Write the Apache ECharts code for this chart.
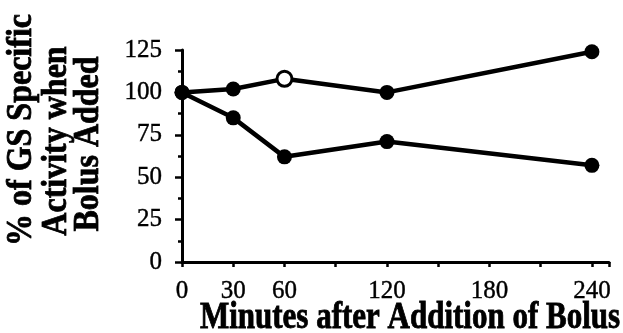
<!DOCTYPE html>
<html><head><meta charset="utf-8">
<script src="https://cdn.jsdelivr.net/npm/echarts@6/dist/echarts.min.js"></script>
<style>html,body{margin:0;padding:0;background:#fff}#c{width:623px;height:333px}</style>
</head><body><div id="c"></div>
<script>
const minutes = [0, 30, 60, 120, 240];
const upperSeries = [100, 102, 108, 100, 124];
const lowerSeries = [100, 85, 62, 71, 57];
const openPointIndex = 2; // open circle on upper series at 60 min
const xTickLabels = [0, 30, 60, 120, 180, 240];
const yTitleLines = ['% of GS Specific', 'Activity when', 'Bolus Added'];
const xTitle = 'Minutes after Addition of Bolus';

const font = '"Liberation Serif", "Times New Roman", serif';
const chart = echarts.init(document.getElementById('c'), null, {renderer: 'canvas'});

function pts(vals, openIdx) {
  return minutes.map((m, i) => {
    const p = {value: [m, vals[i]]};
    if (i === openIdx) p.itemStyle = {color: '#fff', borderColor: '#000', borderWidth: 3};
    return p;
  });
}
const titleStyle = (t, size) => ({text: t, font: 'bold ' + size + 'px ' + font, fill: '#000',
  stroke: '#000', lineWidth: 0.7, align: 'center', verticalAlign: 'middle'});

chart.setOption({
  animation: false,
  backgroundColor: '#fff',
  grid: {left: 182, right: 14, top: 50, bottom: 71, containLabel: false},
  xAxis: {
    type: 'value', min: 0, max: 250, interval: 30,
    axisLine: {show: true, onZero: false, lineStyle: {color: '#000', width: 3}},
    axisTick: {show: true, inside: false, length: 5, lineStyle: {color: '#000', width: 2.5}},
    splitLine: {show: false},
    axisLabel: {
      margin: 12, padding: [5, 0, 0, 0], color: '#000', fontFamily: font, fontSize: 25,
      textBorderColor: '#000', textBorderWidth: 0.4,
      formatter: v => xTickLabels.includes(v) ? String(v) : ''
    }
  },
  yAxis: {
    type: 'value', min: 0, max: 125, interval: 25,
    axisLine: {show: true, lineStyle: {color: '#000', width: 3}},
    axisTick: {show: true, length: 7, lineStyle: {color: '#000', width: 2.5}},
    minorTick: {show: true, splitNumber: 2, length: 4, lineStyle: {color: '#000', width: 2.5}},
    splitLine: {show: false},
    axisLabel: {margin: 20, padding: [0, 0, 6, 0], color: '#000', fontFamily: font, fontSize: 25,
      textBorderColor: '#000', textBorderWidth: 0.4}
  },
  series: [
    {type: 'line', data: pts(upperSeries, openPointIndex), symbol: 'circle', symbolSize: 15,
     lineStyle: {color: '#000', width: 4.5}, itemStyle: {color: '#000'}, z: 3},
    {type: 'line', data: pts(lowerSeries, -1), symbol: 'circle', symbolSize: 15,
     lineStyle: {color: '#000', width: 4.5}, itemStyle: {color: '#000'}, z: 2}
  ],
  graphic: [
    {type: 'text', x: 21, y: 130, rotation: Math.PI / 2, scaleY: 1.15, z: -10, style: titleStyle(yTitleLines[0], 32)},
    {type: 'text', x: 56, y: 141, rotation: Math.PI / 2, scaleY: 1.15, z: -10, style: titleStyle(yTitleLines[1], 32)},
    {type: 'text', x: 88, y: 144, rotation: Math.PI / 2, scaleY: 1.15, z: -10, style: titleStyle(yTitleLines[2], 32)},
    {type: 'text', x: 410, y: 318, scaleY: 1.25, z: -10, style: titleStyle(xTitle, 31)}
  ]
});
</script></body></html>
